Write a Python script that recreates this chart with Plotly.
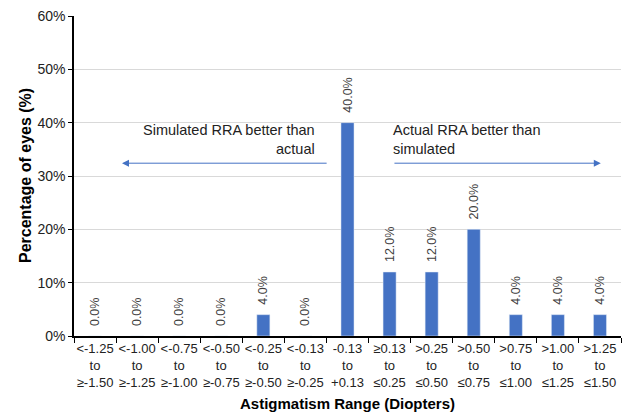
import plotly.graph_objects as go

categories = [
    "<-1.25<br>to<br>≥-1.50", "<-1.00<br>to<br>≥-1.25", "<-0.75<br>to<br>≥-1.00",
    "<-0.50<br>to<br>≥-0.75", "<-0.25<br>to<br>≥-0.50", "<-0.13<br>to<br>≥-0.25",
    "-0.13<br>to<br>+0.13", "≥0.13<br>to<br>≤0.25", ">0.25<br>to<br>≤0.50",
    ">0.50<br>to<br>≤0.75", ">0.75<br>to<br>≤1.00", ">1.00<br>to<br>≤1.25",
    ">1.25<br>to<br>≤1.50",
]
percent_eyes = [0.0, 0.0, 0.0, 0.0, 4.0, 0.0, 40.0, 12.0, 12.0, 20.0, 4.0, 4.0, 4.0]

BLUE = "#4472C4"
FONT = "Liberation Sans, Arial, sans-serif"

fig = go.Figure()
fig.add_trace(go.Bar(
    x=categories,
    y=percent_eyes,
    marker_color=BLUE,
    width=0.31,
    # leading nbsp gives a gap between bar top and the rotated label
    text=[f"\u00a0\u00a0{v:.1f}%" for v in percent_eyes],
    textposition="outside",
    textangle=-90,
    constraintext="none",
    textfont=dict(size=12.5, color="#404040", family=FONT),
    cliponaxis=False,
))

# direction arrows
fig.add_annotation(x=0.64, y=32.4, ax=5.54, ay=32.4, xref="x", yref="y", axref="x", ayref="y",
                   text="", showarrow=True, arrowhead=2, arrowsize=1.4, arrowwidth=1, arrowcolor=BLUE)
fig.add_annotation(x=12.02, y=32.4, ax=7.08, ay=32.4, xref="x", yref="y", axref="x", ayref="y",
                   text="", showarrow=True, arrowhead=2, arrowsize=1.4, arrowwidth=1, arrowcolor=BLUE)
fig.add_annotation(x=5.27, y=36.8, xref="x", yref="y", xanchor="right", align="right",
                   text="Simulated RRA better than<br>actual", showarrow=False,
                   font=dict(size=14.5, color="#222222", family=FONT))
fig.add_annotation(x=7.03, y=36.8, xref="x", yref="y", xanchor="left", align="left",
                   text="Actual RRA better than<br>simulated", showarrow=False,
                   font=dict(size=14.5, color="#222222", family=FONT))

# axis titles
fig.add_annotation(x=0.5, y=0, xref="paper", yref="paper", yshift=-67, yanchor="middle",
                   text="<b>Astigmatism Range (Diopters)</b>", showarrow=False,
                   font=dict(size=15, color="black", family=FONT))
fig.add_annotation(x=0, y=0.5, xref="paper", yref="paper", xshift=-49, xanchor="center",
                   yanchor="middle", textangle=-90,
                   text="<b>Percentage of eyes (%)</b>", showarrow=False,
                   font=dict(size=16, color="black", family=FONT))

fig.update_layout(
    width=629, height=413,
    margin=dict(l=74, r=8, t=16, b=77, autoexpand=False),
    plot_bgcolor="white", paper_bgcolor="white",
    font=dict(family=FONT, size=12, color="#404040"),
    showlegend=False,
)
fig.update_xaxes(
    showline=True, linecolor="black", linewidth=1.5,
    ticks="outside", tickson="boundaries", ticklen=5, tickcolor="black",
    tickangle=0, automargin=False,
    tickfont=dict(size=13, color="#222222"),
)
fig.update_yaxes(
    range=[0, 60], dtick=10, ticksuffix="%",
    showgrid=True, gridcolor="#d9d9d9", gridwidth=1,
    showline=True, linecolor="black", linewidth=1.5,
    ticks="outside", ticklen=4, tickcolor="black", automargin=False,
    tickfont=dict(size=14, color="#222222"),
    zeroline=False,
)

fig.write_html("out.html", config={"displayModeBar": False},
               post_script="document.body.style.margin='0';")
